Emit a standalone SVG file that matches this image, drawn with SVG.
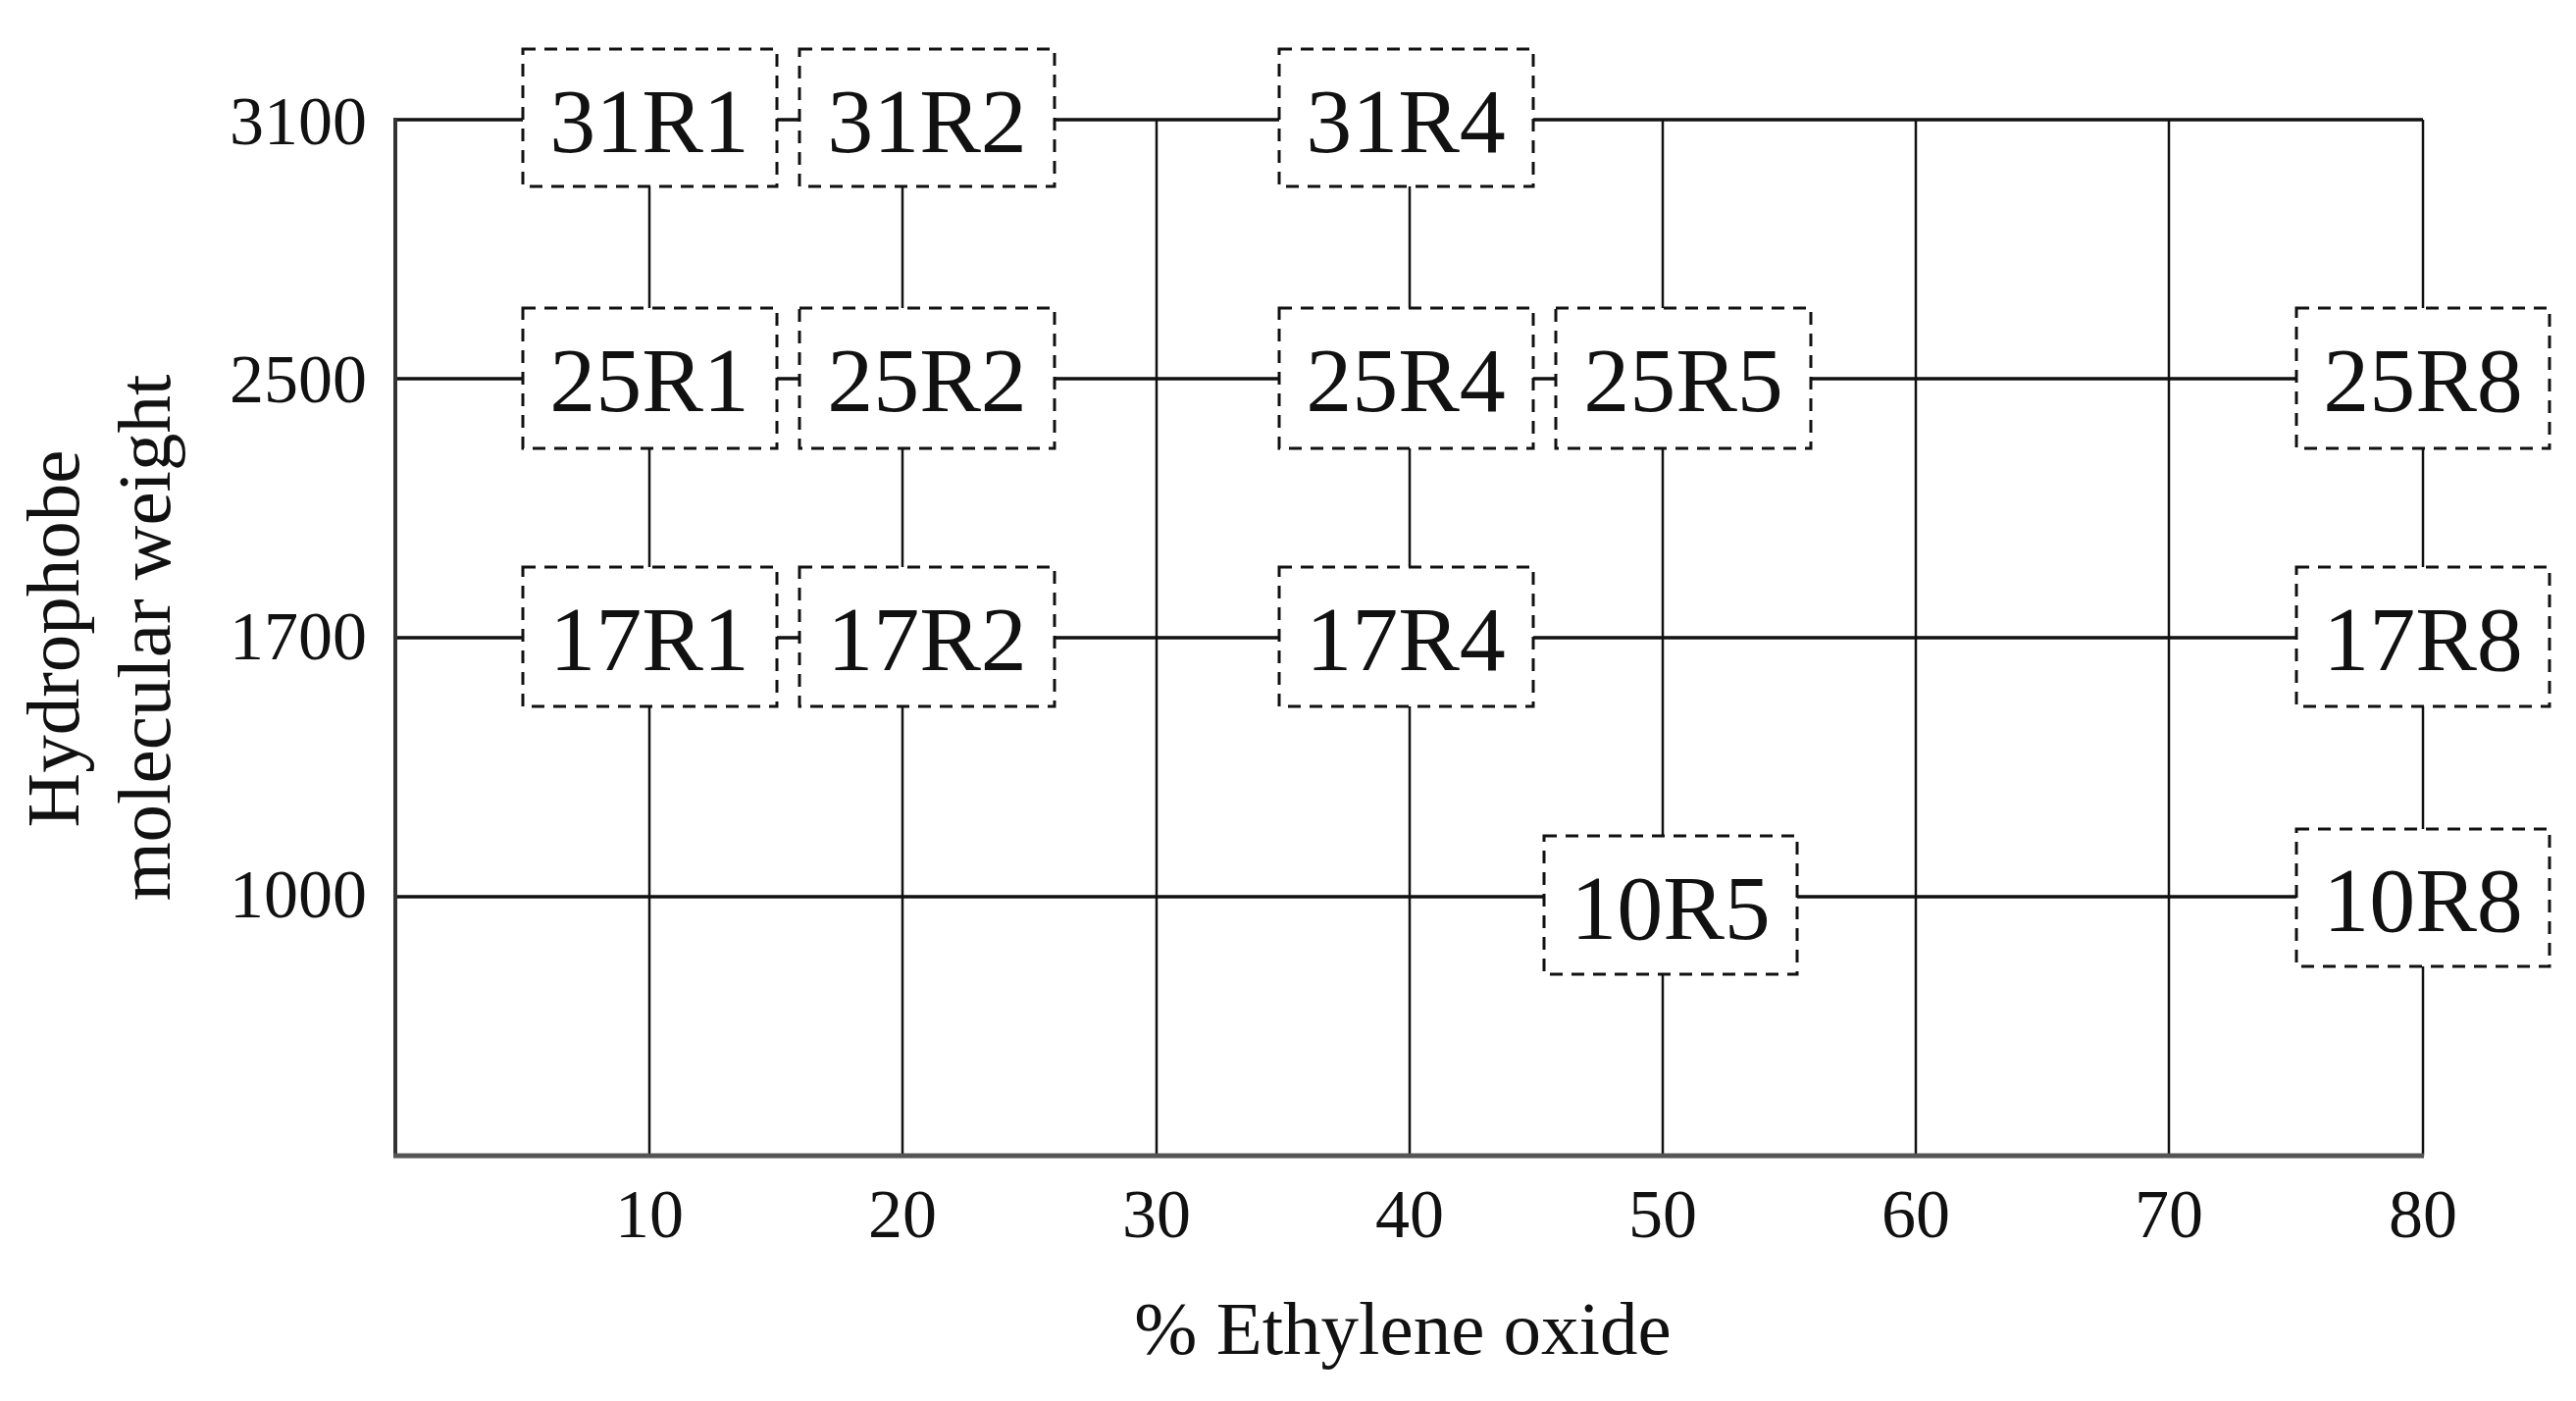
<svg xmlns="http://www.w3.org/2000/svg" width="2626" height="1428" viewBox="0 0 2626 1428">
<style>
.bg{fill:#ffffff}
.h{stroke:#111;stroke-width:3.5;fill:none}
.v{stroke:#111;stroke-width:2.5;fill:none}
.ax{stroke:#333;stroke-width:4;fill:none}
.bx{stroke:#555;stroke-width:5;fill:none}
.box{fill:#fff;stroke:#111;stroke-width:3;stroke-dasharray:13 9}
.lbl{font-family:"Liberation Serif","Times New Roman",serif;font-size:94px;fill:#111;text-anchor:middle}
.tk{font-family:"Liberation Serif","Times New Roman",serif;font-size:70px;fill:#111}
.tt{font-family:"Liberation Serif","Times New Roman",serif;font-size:77px;fill:#111;text-anchor:middle}
</style>
<rect class="bg" x="0" y="0" width="2626" height="1428"/>
<g id="connectors">
<line class="h" x1="403" y1="122" x2="2470" y2="122"/>
<line class="h" x1="403" y1="386" x2="2470" y2="386"/>
<line class="h" x1="403" y1="650" x2="2470" y2="650"/>
<line class="h" x1="403" y1="914" x2="2470" y2="914"/>
<line class="v" x1="662" y1="122" x2="662" y2="1178"/>
<line class="v" x1="920" y1="122" x2="920" y2="1178"/>
<line class="v" x1="1179" y1="122" x2="1179" y2="1178"/>
<line class="v" x1="1437" y1="122" x2="1437" y2="1178"/>
<line class="v" x1="1695" y1="122" x2="1695" y2="1178"/>
<line class="v" x1="1953" y1="122" x2="1953" y2="1178"/>
<line class="v" x1="2211" y1="122" x2="2211" y2="1178"/>
<line class="v" x1="2470" y1="122" x2="2470" y2="1178"/>
<line class="ax" x1="403" y1="120" x2="403" y2="1178"/>
<line class="bx" x1="401" y1="1178" x2="2471" y2="1178"/>
</g>
<g id="axes">
<text class="tk" x="374" y="147" text-anchor="end">3100</text>
<text class="tk" x="374" y="410" text-anchor="end">2500</text>
<text class="tk" x="374" y="672" text-anchor="end">1700</text>
<text class="tk" x="374" y="935" text-anchor="end">1000</text>
<text class="tk" x="662" y="1261" text-anchor="middle">10</text>
<text class="tk" x="920" y="1261" text-anchor="middle">20</text>
<text class="tk" x="1179" y="1261" text-anchor="middle">30</text>
<text class="tk" x="1437" y="1261" text-anchor="middle">40</text>
<text class="tk" x="1695" y="1261" text-anchor="middle">50</text>
<text class="tk" x="1953" y="1261" text-anchor="middle">60</text>
<text class="tk" x="2211" y="1261" text-anchor="middle">70</text>
<text class="tk" x="2470" y="1261" text-anchor="middle">80</text>
<text class="tt" x="1430" y="1380">% Ethylene oxide</text>
<text class="tt" transform="translate(80,651) rotate(-90)">Hydrophobe</text>
<text class="tt" transform="translate(173,650) rotate(-90)">molecular weight</text>
</g>
<g id="n31R1"><rect class="box" x="533" y="50" width="259" height="140"/><text class="lbl" x="662" y="155">31R1</text></g>
<g id="n31R2"><rect class="box" x="815" y="50" width="260" height="140"/><text class="lbl" x="945" y="155">31R2</text></g>
<g id="n31R4"><rect class="box" x="1304" y="50" width="259" height="140"/><text class="lbl" x="1433" y="155">31R4</text></g>
<g id="n25R1"><rect class="box" x="533" y="314" width="259" height="143"/><text class="lbl" x="662" y="419">25R1</text></g>
<g id="n25R2"><rect class="box" x="815" y="314" width="260" height="143"/><text class="lbl" x="945" y="419">25R2</text></g>
<g id="n25R4"><rect class="box" x="1304" y="314" width="259" height="143"/><text class="lbl" x="1433" y="419">25R4</text></g>
<g id="n25R5"><rect class="box" x="1586" y="314" width="260" height="143"/><text class="lbl" x="1716" y="419">25R5</text></g>
<g id="n25R8"><rect class="box" x="2341" y="314" width="258" height="143"/><text class="lbl" x="2470" y="419">25R8</text></g>
<g id="n17R1"><rect class="box" x="533" y="578" width="259" height="142"/><text class="lbl" x="662" y="683">17R1</text></g>
<g id="n17R2"><rect class="box" x="815" y="578" width="260" height="142"/><text class="lbl" x="945" y="683">17R2</text></g>
<g id="n17R4"><rect class="box" x="1304" y="578" width="259" height="142"/><text class="lbl" x="1433" y="683">17R4</text></g>
<g id="n17R8"><rect class="box" x="2341" y="578" width="258" height="142"/><text class="lbl" x="2470" y="683">17R8</text></g>
<g id="n10R5"><rect class="box" x="1574" y="852" width="258" height="141"/><text class="lbl" x="1703" y="957">10R5</text></g>
<g id="n10R8"><rect class="box" x="2341" y="845" width="258" height="140"/><text class="lbl" x="2470" y="949">10R8</text></g>
</svg>
